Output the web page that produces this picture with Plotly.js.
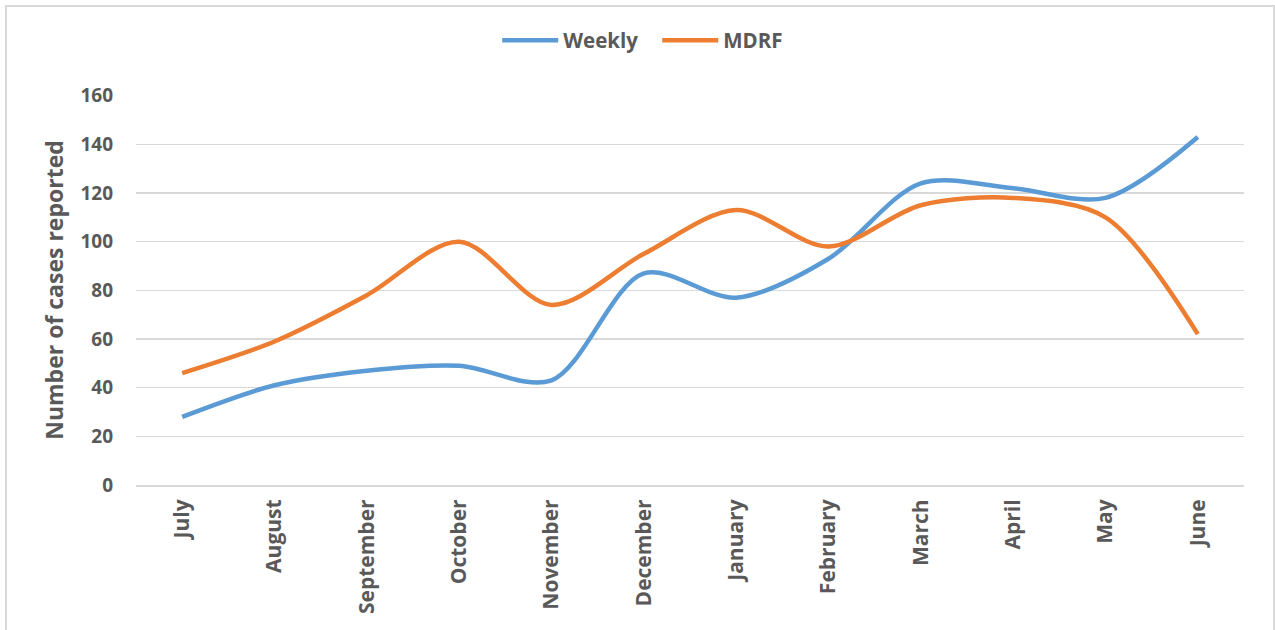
<!DOCTYPE html>
<html>
<head>
<meta charset="utf-8">
<script src="https://cdn.plot.ly/plotly-3.0.1.min.js"></script>
<style>
html,body{margin:0;padding:0;background:#fff;overflow:hidden;width:1275px;height:630px;}
#chart{width:1275px;height:630px;position:absolute;left:0;top:0;}
#frame{position:absolute;left:5px;top:5px;width:1266px;height:625px;border:2px solid #d9d9d9;border-bottom:none;pointer-events:none;box-sizing:content-box;}
</style>
</head>
<body>
<div id="chart"></div>
<div id="frame"></div>
<script>
const months = ["July","August","September","October","November","December","January","February","March","April","May","June"];
const weekly = [28, 41, 47, 49, 43, 87, 77, 93, 124, 122, 118, 143];
const mdrf = [46, 59, 78, 100, 74, 95, 113, 98, 115, 118, 110, 62];
const yTicks = [0, 20, 40, 60, 80, 100, 120, 140, 160];

const fontFam = "'Open Sans', Lato, sans-serif";
const grey = "#595959";

const traces = [
  {x: months, y: weekly, name: "Weekly", type: "scatter", mode: "lines",
   line: {color: "#5b9bd5", width: 4.5, shape: "spline", smoothing: 0.9}},
  {x: months, y: mdrf, name: "MDRF", type: "scatter", mode: "lines",
   line: {color: "#ed7d31", width: 4.5, shape: "spline", smoothing: 0.9}}
];

const layout = {
  width: 1275, height: 630,
  margin: {l: 136, r: 31, t: 95, b: 145},
  paper_bgcolor: "rgba(0,0,0,0)", plot_bgcolor: "#fff",
  font: {family: fontFam, color: grey, size: 16, weight: "bold"},
  showlegend: true,
  legend: {orientation: "h", x: 0.326, xanchor: "left", y: 1.14, yanchor: "middle",
           font: {size: 20.5, color: grey, family: fontFam, weight: "bold"},
           itemwidth: 56, entrywidth: 89, entrywidthmode: "pixels"},
  xaxis: {type: "category", range: [-0.5, 11.5], tickangle: -90, showgrid: false,
          showline: true, linecolor: "#d9d9d9", linewidth: 2, ticks: "",
          ticklabelstandoff: 4,
          tickfont: {size: 21, color: grey, family: fontFam, weight: "bold"}, automargin: false},
  yaxis: {range: [0, 160.3], tickvals: yTicks, ticktext: yTicks.map(String),
          showgrid: true, gridcolor: "#d9d9d9", gridwidth: 1.5, zeroline: false,
          showline: false, ticks: "", ticklen: 0, ticklabelstandoff: 22,
          tickfont: {size: 19, color: grey, family: fontFam, weight: "bold"},
          title: {text: "Number of cases reported", standoff: 10,
                  font: {size: 23, color: grey, family: fontFam, weight: "bold"}},
          automargin: false}
};

Plotly.newPlot("chart", traces, layout, {displayModeBar: false, staticPlot: true});
</script>
</body>
</html>
